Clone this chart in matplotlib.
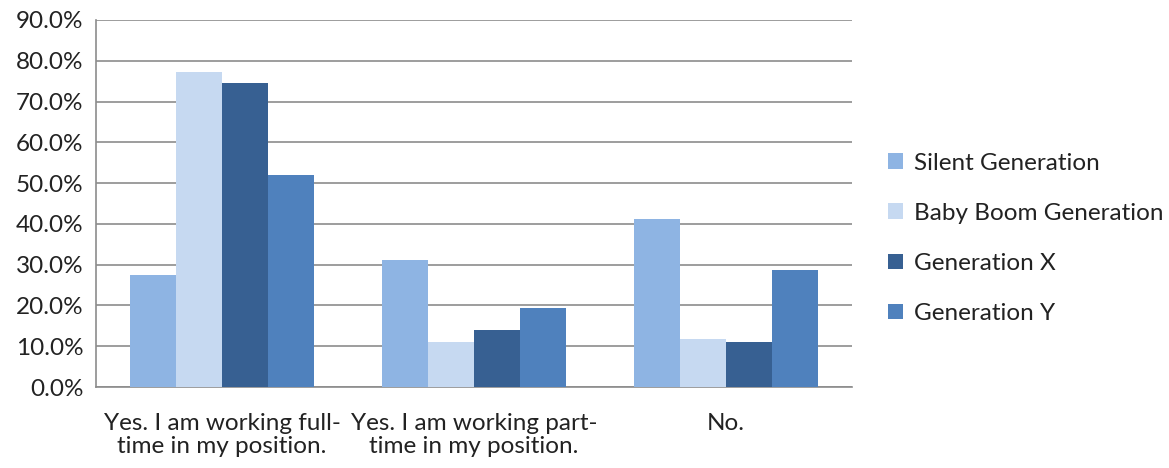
import matplotlib
matplotlib.use("Agg")
import matplotlib.pyplot as plt
import numpy as np
from matplotlib.ticker import PercentFormatter, MultipleLocator

categories = ["Yes. I am working full-\ntime in my position.",
              "Yes. I am working part-\ntime in my position.",
              "No."]
series_names = ["Silent Generation", "Baby Boom Generation", "Generation X", "Generation Y"]
silent = [27.4, 31.2, 41.2]
baby_boom = [77.2, 11.1, 11.7]
gen_x = [74.6, 13.9, 11.1]
gen_y = [52.0, 19.3, 28.7]
colors = ["#8EB4E3", "#C6D9F1", "#376092", "#4F81BD"]

plt.rcParams['font.family'] = ['Lato', 'DejaVu Sans']
FS = 17.5

fig = plt.figure(figsize=(11.69, 4.68), dpi=100)
ax = fig.add_axes([96/1169, 1-387/468, (852-96)/1169, (387-20)/468])

data = [silent, baby_boom, gen_x, gen_y]
x = np.arange(len(categories))
w = 1/5.5
for i, (vals, name, c) in enumerate(zip(data, series_names, colors)):
    ax.bar(x + (i - 1.5) * w, vals, width=w, color=c, label=name, zorder=3)

ax.set_xlim(-0.5, 2.5)
ax.set_ylim(0, 90)
ax.yaxis.set_major_locator(MultipleLocator(10))
ax.yaxis.set_major_formatter(PercentFormatter(decimals=1))
ax.grid(axis='y', color='#8c8c8c', linewidth=1.2, zorder=0)
for s in ['top', 'right']:
    ax.spines[s].set_visible(False)
for s in ['left', 'bottom']:
    ax.spines[s].set_color('#8c8c8c')
    ax.spines[s].set_linewidth(1.2)
ax.tick_params(axis='y', length=0, labelsize=FS, colors='#222222', pad=9)
ax.tick_params(axis='x', length=0, labelsize=FS, colors='#222222', pad=19)
ax.set_xticks(x)
ax.set_xticklabels(categories, fontsize=FS, linespacing=1.08)

leg = ax.legend(loc='center left', bbox_to_anchor=((888-96)/756, 0.405),
                frameon=False, fontsize=FS, handlelength=0.6, handleheight=0.6,
                labelspacing=1.2, handletextpad=0.45, borderaxespad=0, borderpad=0)
for t in leg.get_texts():
    t.set_color('#222222')

fig.savefig("out.png", dpi=100)
